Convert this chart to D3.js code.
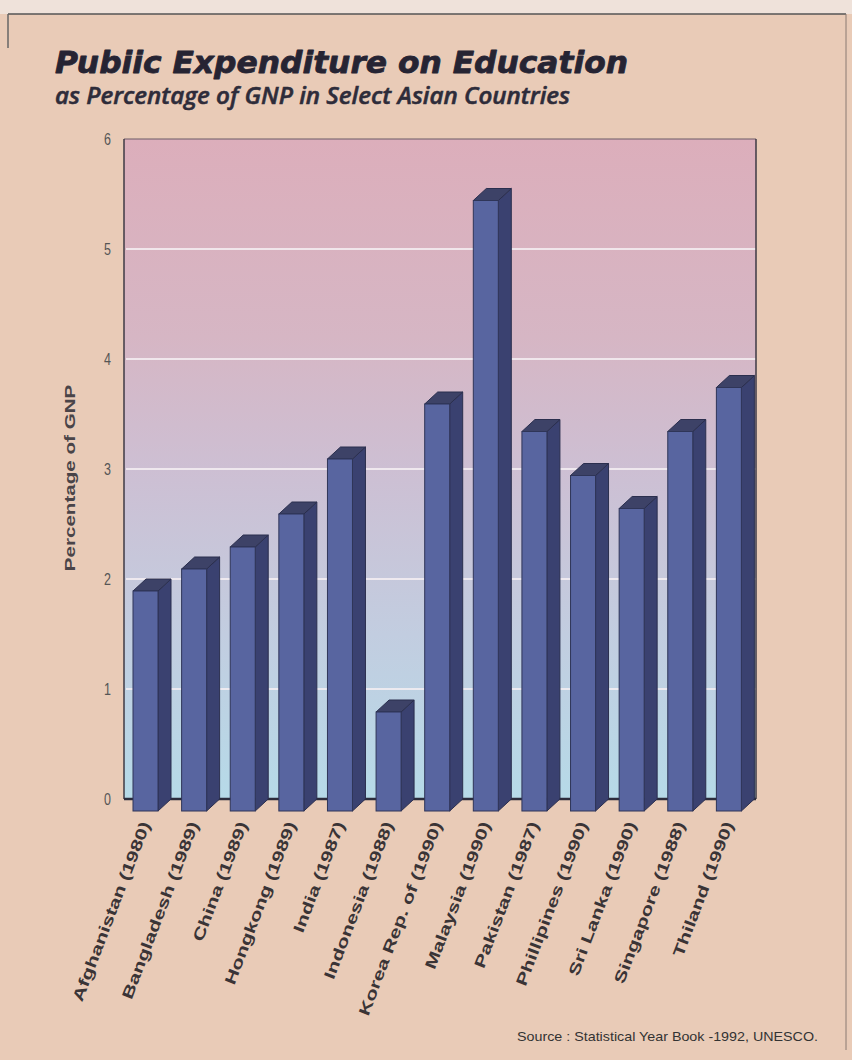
<!DOCTYPE html>
<html>
<head>
<meta charset="utf-8">
<script src="https://cdn.jsdelivr.net/npm/d3@7"></script>
<style>
  html, body { margin: 0; padding: 0; background: #e9cbb7; }
  svg { display: block; }
</style>
</head>
<body>
<script>
// Public expenditure on education, % of GNP (year of data in brackets)
const countries = [
  "Afghanistan (1980)", "Bangladesh (1989)", "China (1989)", "Hongkong (1989)",
  "India (1987)", "Indonesia (1988)", "Korea  Rep. of (1990)", "Malaysia (1990)",
  "Pakistan (1987)", "Phillipines (1990)", "Sri Lanka (1990)", "Singapore (1988)",
  "Thiland (1990)"
];
const gnpShare = [2.0, 2.2, 2.4, 2.7, 3.2, 0.9, 3.7, 5.55, 3.45, 3.05, 2.75, 3.45, 3.85];
const yTicks = [0, 1, 2, 3, 4, 5, 6];

const W = 852, H = 1060;
const plot = { left: 124, right: 756, top: 139, bottom: 799 };
const depth = { dx: 13, dy: 12 };
const faceW = 25;
const vStretch = 1.3;   // printed type is tall and narrow

const svg = d3.select("body").append("svg").attr("width", W).attr("height", H);

const defs = svg.append("defs");
const bgGrad = defs.append("linearGradient").attr("id", "plotBg")
  .attr("x1", 0).attr("y1", 0).attr("x2", 0).attr("y2", 1);
[[0, "#dcaebb"], [0.3, "#d6b6c4"], [0.5, "#cdbfd3"], [0.75, "#c2cde0"], [1, "#b6dae8"]]
  .forEach(([o, c]) => bgGrad.append("stop").attr("offset", o).attr("stop-color", c));

// page
svg.append("rect").attr("width", W).attr("height", H).attr("fill", "#e9cbb7");
svg.append("rect").attr("width", W).attr("height", 14).attr("fill", "#efe2da");
svg.append("line").attr("x1", 8).attr("x2", 846).attr("y1", 14).attr("y2", 14)
  .attr("stroke", "#555").attr("stroke-width", 1.5);
svg.append("line").attr("x1", 8).attr("x2", 8).attr("y1", 14).attr("y2", 48)
  .attr("stroke", "#666").attr("stroke-width", 1.5);
svg.append("line").attr("x1", 846).attr("x2", 846).attr("y1", 14).attr("y2", 1050)
  .attr("stroke", "#8a7a72").attr("stroke-width", 1);

// titles
svg.append("g").attr("transform", `translate(55,73) scale(1,${vStretch})`)
  .append("text").attr("x", 0).attr("y", 0)
  .attr("textLength", 573).attr("lengthAdjust", "spacingAndGlyphs")
  .style("font-family", "'DejaVu Sans', sans-serif")
  .style("font-weight", 700).style("font-style", "oblique")
  .style("font-size", "23px").attr("fill", "#262433")
  .attr("stroke", "#262433").attr("stroke-width", 0.6).attr("stroke-linejoin", "round")
  .text("Pubiic Expenditure on Education");
svg.append("g").attr("transform", `translate(55,104) scale(1,${vStretch})`)
  .append("text").attr("x", 0).attr("y", 0)
  .attr("textLength", 515).attr("lengthAdjust", "spacingAndGlyphs")
  .style("font-family", "'Open Sans', sans-serif")
  .style("font-weight", 600).style("font-style", "italic")
  .style("font-size", "17.5px").attr("fill", "#2e2c3a")
  .attr("stroke", "#2e2c3a").attr("stroke-width", 0.4)
  .text("as Percentage of GNP in Select Asian Countries");

// scales
const x = d3.scaleBand().domain(countries).range([plot.left, plot.right]).padding(0);
const y = d3.scaleLinear().domain([0, 6]).range([plot.bottom, plot.top]);

// plot background
svg.append("rect").attr("x", plot.left).attr("y", plot.top)
  .attr("width", plot.right - plot.left).attr("height", plot.bottom - plot.top)
  .attr("fill", "url(#plotBg)");

// gridlines
svg.append("g").selectAll("line").data(yTicks.filter(t => t > 0 && t < 6)).join("line")
  .attr("x1", plot.left + 2).attr("x2", plot.right)
  .attr("y1", d => y(d)).attr("y2", d => y(d))
  .attr("stroke", "#f4eef2").attr("stroke-opacity", 0.85).attr("stroke-width", 2);

// frame
svg.append("line").attr("x1", plot.left).attr("x2", plot.right)
  .attr("y1", plot.top).attr("y2", plot.top).attr("stroke", "#6a5a66").attr("stroke-width", 1);
svg.append("line").attr("x1", plot.left).attr("x2", plot.left)
  .attr("y1", plot.top).attr("y2", plot.bottom).attr("stroke", "#3e3a44").attr("stroke-width", 1.5);
svg.append("line").attr("x1", plot.right).attr("x2", plot.right)
  .attr("y1", plot.top).attr("y2", plot.bottom).attr("stroke", "#3e3a44").attr("stroke-width", 1.5);
svg.append("line").attr("x1", plot.left).attr("x2", plot.right)
  .attr("y1", plot.bottom).attr("y2", plot.bottom).attr("stroke", "#2c2c3c").attr("stroke-width", 2.5);

// y axis ticks
const yAxis = d3.axisLeft(y).tickValues(yTicks).tickFormat(d3.format("d")).tickSize(0).tickPadding(13);
const ya = svg.append("g").attr("transform", `translate(${plot.left},0)`).call(yAxis);
ya.select(".domain").remove();
ya.selectAll(".tick text")
  .attr("dy", "0.36em")
  .attr("transform", `scale(1,${vStretch})`)
  .attr("y", 0)
  .style("font-family", "'Liberation Sans', Arial, sans-serif")
  .style("font-size", "12.5px").attr("fill", "#555");

svg.append("text")
  .attr("transform", `translate(75,478) scale(1,1.33) rotate(-90)`)
  .attr("text-anchor", "middle")
  .style("font-family", "'Liberation Sans', Arial, sans-serif")
  .style("font-weight", 700).style("font-size", "15.5px").attr("fill", "#4a4448")
  .text("Percentage of GNP");

// 3D bars: back face on axis plane, front face shifted down-left
const bars = svg.append("g").selectAll("g").data(countries.map((c, i) => ({ c, v: gnpShare[i] })))
  .join("g");

bars.each(function (d) {
  const g = d3.select(this);
  const fx = x(d.c) + 9;
  const fTop = y(d.v) + depth.dy;
  const fBot = y(0) + depth.dy;
  // side face
  g.append("path")
    .attr("d", `M${fx + faceW},${fTop} L${fx + faceW + depth.dx},${fTop - depth.dy} L${fx + faceW + depth.dx},${fBot - depth.dy} L${fx + faceW},${fBot} Z`)
    .attr("fill", "#3a4170").attr("stroke", "#2b2f4e").attr("stroke-width", 1);
  // top cap
  g.append("path")
    .attr("d", `M${fx},${fTop} L${fx + depth.dx},${fTop - depth.dy} L${fx + faceW + depth.dx},${fTop - depth.dy} L${fx + faceW},${fTop} Z`)
    .attr("fill", "#3d4267").attr("stroke", "#2b2f4e").attr("stroke-width", 1);
  // front face
  g.append("rect").attr("x", fx).attr("y", fTop).attr("width", faceW).attr("height", fBot - fTop)
    .attr("fill", "#5865a0").attr("stroke", "#2f3558").attr("stroke-width", 1);
});

// category labels (steeply slanted, long type)
svg.append("g").selectAll("g").data(countries).join("g")
  .attr("transform", d => `translate(${x(d) + 9 + faceW / 2 + 5},${y(0) + 25}) rotate(-69) scale(1.38,1)`)
  .append("text")
  .attr("text-anchor", "end")
  .style("font-family", "'Liberation Sans', Arial, sans-serif")
  .style("font-weight", 700).style("font-size", "15.5px").attr("fill", "#3a3436")
  .text(d => d);

// source note
svg.append("text").attr("x", 818).attr("y", 1041).attr("text-anchor", "end")
  .attr("textLength", 301).attr("lengthAdjust", "spacingAndGlyphs")
  .style("font-family", "'Liberation Sans', Arial, sans-serif")
  .style("font-size", "13.5px").attr("fill", "#333")
  .text("Source : Statistical Year Book -1992, UNESCO.");
</script>
</body>
</html>
